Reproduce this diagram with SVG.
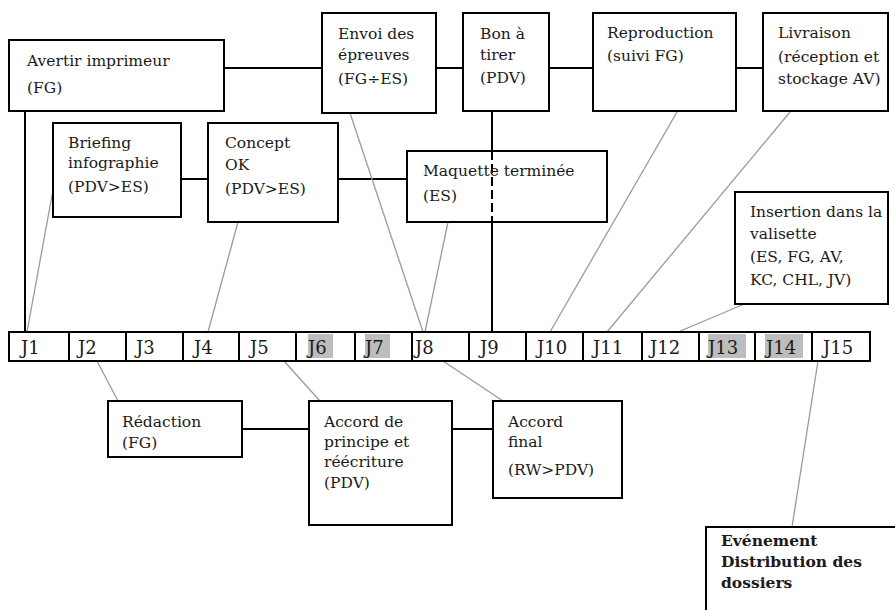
<svg xmlns="http://www.w3.org/2000/svg" width="895" height="610" viewBox="0 0 895 610">
  <style>
    .box { fill: #fff; stroke: #000; stroke-width: 2; }
    .link { stroke: #000; stroke-width: 2; fill: none; }
    .tie { stroke: #9a9a9a; stroke-width: 1.3; fill: none; }
    .lbl { font-family: "DejaVu Serif", serif; font-size: 15.5px; fill: #1a1a1a; }
    .bold { font-weight: bold; }
    .day { font-family: "DejaVu Serif", serif; font-size: 18px; fill: #1a1a1a; }
    .cell { fill: #fff; stroke: #000; stroke-width: 2; }
    .shade { fill: #bdbdbd; }
  </style>

  <rect width="895" height="610" fill="#fff"/>

  <!-- connectors: black task links and grey day ties -->
  <g id="connectors">
    <line class="link" x1="224" y1="68" x2="322" y2="68"/>
    <line class="link" x1="436" y1="68" x2="463" y2="68"/>
    <line class="link" x1="549" y1="68" x2="593" y2="68"/>
    <line class="link" x1="736" y1="68" x2="763" y2="68"/>
    <line class="link" x1="25" y1="111" x2="25" y2="332"/>
    <line class="link" x1="181" y1="179" x2="208" y2="179"/>
    <line class="link" x1="338" y1="179" x2="407" y2="179"/>
    <line class="link" x1="492" y1="111" x2="492" y2="151"/>
    <line class="link" x1="492" y1="222" x2="492" y2="332"/>
    <line class="link" x1="242" y1="429" x2="309" y2="429"/>
    <line class="link" x1="452" y1="429" x2="493" y2="429"/>

    <line class="tie" x1="53" y1="190" x2="27" y2="332"/>
    <line class="tie" x1="238" y1="222" x2="208" y2="332"/>
    <line class="tie" x1="350" y1="113" x2="423" y2="332"/>
    <line class="tie" x1="448" y1="222" x2="425" y2="332"/>
    <line class="tie" x1="677" y1="112" x2="550" y2="332"/>
    <line class="tie" x1="790" y1="112" x2="607" y2="332"/>
    <line class="tie" x1="742" y1="305" x2="678" y2="332"/>
    <line class="tie" x1="97" y1="361" x2="118" y2="401"/>
    <line class="tie" x1="284" y1="361" x2="320" y2="401"/>
    <line class="tie" x1="443" y1="361" x2="503" y2="401"/>
    <line class="tie" x1="818" y1="361" x2="792" y2="527"/>
  </g>

  <!-- upper row of tasks -->
  <g id="avertir">
    <rect class="box" x="9" y="40" width="215" height="71"/>
    <text class="lbl" x="27" y="66">Avertir imprimeur<tspan x="27" y="93">(FG)</tspan></text>
  </g>
  <g id="envoi">
    <rect class="box" x="322" y="13" width="114" height="100"/>
    <text class="lbl" x="338" y="39">Envoi des<tspan x="338" y="60">épreuves</tspan><tspan x="338" y="84">(FG÷ES)</tspan></text>
  </g>
  <g id="bat">
    <rect class="box" x="463" y="13" width="86" height="98"/>
    <text class="lbl" x="480" y="39">Bon à<tspan x="480" y="60">tirer</tspan><tspan x="480" y="83">(PDV)</tspan></text>
  </g>
  <g id="reproduction">
    <rect class="box" x="593" y="13" width="143" height="98"/>
    <text class="lbl" x="607" y="38">Reproduction<tspan x="607" y="61">(suivi FG)</tspan></text>
  </g>
  <g id="livraison">
    <rect class="box" x="763" y="13" width="125" height="98"/>
    <text class="lbl" x="778" y="38">Livraison<tspan x="778" y="62">(réception  et</tspan><tspan x="778" y="84">stockage AV)</tspan></text>
  </g>

  <!-- middle row of tasks -->
  <g id="briefing">
    <rect class="box" x="53" y="123" width="128" height="94"/>
    <text class="lbl" x="68" y="148">Briefing<tspan x="68" y="168">infographie</tspan><tspan x="68" y="192">(PDV&gt;ES)</tspan></text>
  </g>
  <g id="concept">
    <rect class="box" x="208" y="123" width="130" height="99"/>
    <text class="lbl" x="225" y="148">Concept<tspan x="225" y="170">OK</tspan><tspan x="225" y="194">(PDV&gt;ES)</tspan></text>
  </g>
  <g id="maquette">
    <rect class="box" x="407" y="151" width="200" height="71"/>
    <line x1="492" y1="151" x2="492" y2="222" stroke="#000" stroke-width="2" stroke-dasharray="9 4"/>
    <text class="lbl" x="423" y="176">Maquette terminée<tspan x="423" y="201">(ES)</tspan></text>
  </g>
  <g id="insertion">
    <rect class="box" x="735" y="192" width="153" height="112"/>
    <text class="lbl" x="750" y="217">Insertion dans la<tspan x="750" y="239">valisette</tspan><tspan x="750" y="262">(ES, FG, AV,</tspan><tspan x="750" y="285">KC, CHL, JV)</tspan></text>
  </g>

  <!-- day scale J1..J15 -->
  <g id="timeline">
    <rect class="cell" x="9" y="332" width="861" height="29"/>
    <g stroke="#000" stroke-width="2">
      <line x1="69" y1="332" x2="69" y2="361"/>
      <line x1="126" y1="332" x2="126" y2="361"/>
      <line x1="183" y1="332" x2="183" y2="361"/>
      <line x1="239" y1="332" x2="239" y2="361"/>
      <line x1="296" y1="332" x2="296" y2="361"/>
      <line x1="355" y1="332" x2="355" y2="361"/>
      <line x1="412" y1="332" x2="412" y2="361"/>
      <line x1="469" y1="332" x2="469" y2="361"/>
      <line x1="526" y1="332" x2="526" y2="361"/>
      <line x1="583" y1="332" x2="583" y2="361"/>
      <line x1="642" y1="332" x2="642" y2="361"/>
      <line x1="699" y1="332" x2="699" y2="361"/>
      <line x1="755" y1="332" x2="755" y2="361"/>
      <line x1="812" y1="332" x2="812" y2="361"/>
    </g>
    <rect class="shade" x="308" y="334" width="25" height="24"/>
    <rect class="shade" x="365" y="334" width="25" height="24"/>
    <rect class="shade" x="708" y="334" width="38" height="24"/>
    <rect class="shade" x="765" y="334" width="38" height="24"/>
    <text class="day" x="21" y="354">J1</text>
    <text class="day" x="78" y="354">J2</text>
    <text class="day" x="136" y="354">J3</text>
    <text class="day" x="194" y="354">J4</text>
    <text class="day" x="250" y="354">J5</text>
    <text class="day" x="308" y="354">J6</text>
    <text class="day" x="365" y="354">J7</text>
    <text class="day" x="415" y="354">J8</text>
    <text class="day" x="480" y="354">J9</text>
    <text class="day" x="537" y="354">J10</text>
    <text class="day" x="593" y="354">J11</text>
    <text class="day" x="650" y="354">J12</text>
    <text class="day" x="708" y="354">J13</text>
    <text class="day" x="766" y="354">J14</text>
    <text class="day" x="823" y="354">J15</text>
  </g>

  <!-- lower row of tasks -->
  <g id="redaction">
    <rect class="box" x="108" y="401" width="134" height="56"/>
    <text class="lbl" x="122" y="427">Rédaction<tspan x="122" y="448">(FG)</tspan></text>
  </g>
  <g id="accord-principe">
    <rect class="box" x="309" y="401" width="143" height="124"/>
    <text class="lbl" x="324" y="427">Accord de<tspan x="324" y="447">principe et</tspan><tspan x="324" y="467">réécriture</tspan><tspan x="324" y="488">(PDV)</tspan></text>
  </g>
  <g id="accord-final">
    <rect class="box" x="493" y="401" width="129" height="97"/>
    <text class="lbl" x="508" y="427">Accord<tspan x="508" y="447">final</tspan><tspan x="508" y="475">(RW&gt;PDV)</tspan></text>
  </g>
  <g id="evenement">
    <rect class="box" x="706" y="527" width="200" height="100"/>
    <text class="lbl bold" x="721" y="546">Evénement<tspan x="721" y="567">Distribution des</tspan><tspan x="721" y="588">dossiers</tspan></text>
  </g>
</svg>
